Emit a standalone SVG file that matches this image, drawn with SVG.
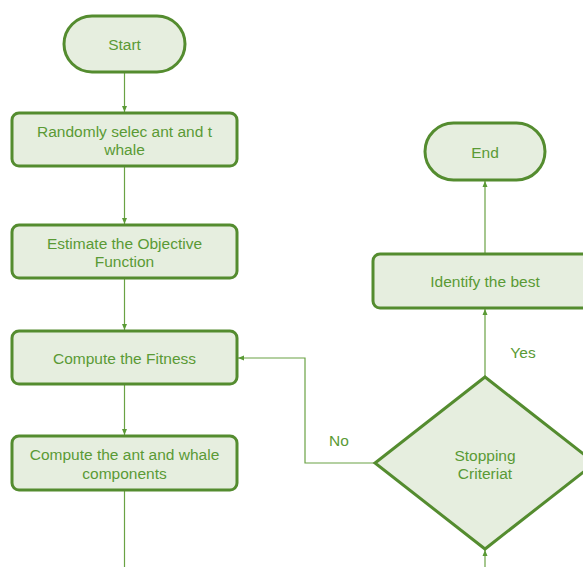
<svg xmlns="http://www.w3.org/2000/svg" width="583" height="567" viewBox="0 0 583 567">
<style>
.node{fill:#e6eedf;stroke:#548c2f;stroke-width:3}
.t{font-family:"Liberation Sans",Arial,sans-serif;font-size:15.5px;fill:#5a9a35;text-anchor:middle;dominant-baseline:central}
.c{fill:none;stroke:#6aa244;stroke-width:1.2}
</style>
<defs>
<marker id="ah" viewBox="0 0 6 6" refX="6" refY="3" markerWidth="6" markerHeight="6" markerUnits="userSpaceOnUse" orient="auto">
<path d="M0,0.5 L6,3 L0,5.5 Z" fill="#5a9a35"/>
</marker>
</defs>
<rect width="583" height="567" fill="#ffffff"/>
<g id="connectors">
<line class="c" x1="124.5" y1="72" x2="124.5" y2="112" marker-end="url(#ah)"/>
<line class="c" x1="124.5" y1="166" x2="124.5" y2="224" marker-end="url(#ah)"/>
<line class="c" x1="124.5" y1="278" x2="124.5" y2="330" marker-end="url(#ah)"/>
<line class="c" x1="124.5" y1="384" x2="124.5" y2="435" marker-end="url(#ah)"/>
<line class="c" x1="124.5" y1="490" x2="124.5" y2="567"/>
<polyline class="c" points="375,463 305,463 305,358 238,358" marker-end="url(#ah)"/>
<line class="c" x1="485" y1="377" x2="485" y2="309" marker-end="url(#ah)"/>
<line class="c" x1="485" y1="254" x2="485" y2="181" marker-end="url(#ah)"/>
<line class="c" x1="485" y1="567" x2="485" y2="550" marker-end="url(#ah)"/>
<text class="t" x="523" y="352">Yes</text>
<text class="t" x="339" y="440">No</text>
</g>
<g id="start">
<rect class="node" x="64" y="16" width="121" height="56" rx="28"/>
<text class="t" x="124.5" y="44">Start</text>
</g>
<g id="select">
<rect class="node" x="12" y="113" width="225" height="53" rx="7"/>
<text class="t" x="124.5" y="131">Randomly selec ant and t</text>
<text class="t" x="124.5" y="149">whale</text>
</g>
<g id="estimate">
<rect class="node" x="12" y="225" width="225" height="53" rx="7"/>
<text class="t" x="124.5" y="243">Estimate the Objective</text>
<text class="t" x="124.5" y="261">Function</text>
</g>
<g id="fitness">
<rect class="node" x="12" y="331" width="225" height="53" rx="7"/>
<text class="t" x="124.5" y="358">Compute the Fitness</text>
</g>
<g id="components">
<rect class="node" x="12" y="436" width="225" height="54" rx="7"/>
<text class="t" x="124.5" y="454">Compute the ant and whale</text>
<text class="t" x="124.5" y="473">components</text>
</g>
<g id="end">
<rect class="node" x="425" y="123" width="120" height="57" rx="28.5"/>
<text class="t" x="485" y="152">End</text>
</g>
<g id="identify">
<rect class="node" x="373" y="254" width="224" height="54" rx="7"/>
<text class="t" x="485" y="281">Identify the best</text>
</g>
<g id="stopping">
<polygon class="node" points="485,377 595,463 485,549 375,463"/>
<text class="t" x="485" y="455">Stopping</text>
<text class="t" x="485" y="473">Criteriat</text>
</g>
</svg>
